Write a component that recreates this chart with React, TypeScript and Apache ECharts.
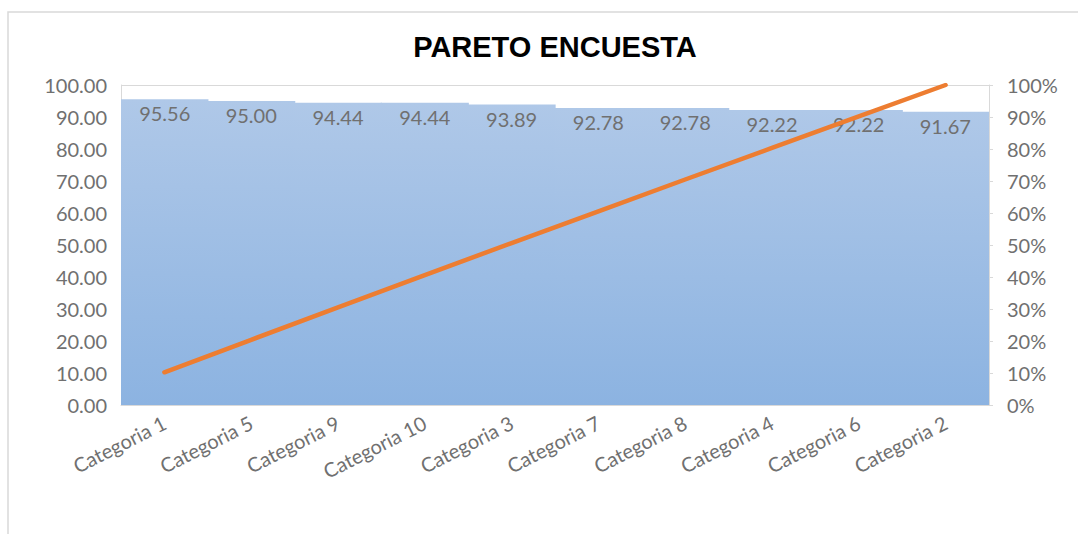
import React, { useEffect, useRef } from "react";
import * as echarts from "echarts";

const categories = [
  "Categoria 1", "Categoria 5", "Categoria 9", "Categoria 10", "Categoria 3",
  "Categoria 7", "Categoria 8", "Categoria 4", "Categoria 6", "Categoria 2",
];
const scores = [95.56, 95.0, 94.44, 94.44, 93.89, 92.78, 92.78, 92.22, 92.22, 91.67];
const cumulativePct = [10.22, 20.38, 30.48, 40.58, 50.62, 60.54, 70.47, 80.33, 90.2, 100];

const labelFont = "Lato, 'Noto Sans', sans-serif";
const grey = "#707070";

export default function App() {
  const ref = useRef<HTMLDivElement>(null);

  useEffect(() => {
    if (!ref.current) return;
    const chart = echarts.init(ref.current, undefined, { renderer: "svg" });
    chart.setOption({
      animation: false,
      backgroundColor: "#ffffff",
      title: {
        text: "PARETO ENCUESTA",
        left: 550,
        top: 27,
        textAlign: "center",
        textStyle: {
          fontFamily: "'Liberation Sans', Arial, sans-serif",
          fontWeight: "bold",
          fontSize: 29,
          color: "#000000",
        },
      },
      graphic: [
        {
          type: "rect",
          shape: { x: 8, y: 12, width: 1200, height: 700 },
          style: { fill: "none", stroke: "#d9d9d9", lineWidth: 1.5 },
          silent: true,
        },
      ],
      grid: { left: 121, right: 89, top: 85, bottom: 129 },
      xAxis: {
        type: "category",
        data: categories,
        boundaryGap: true,
        axisLine: { show: true, lineStyle: { color: "#d9d9d9" } },
        axisTick: { show: false },
        axisLabel: {
          rotate: 27,
          interval: 0,
          color: grey,
          fontFamily: labelFont,
          fontSize: 20,
          margin: 16,
        },
      },
      yAxis: [
        {
          type: "value",
          min: 0,
          max: 100,
          interval: 10,
          axisLine: { show: true, lineStyle: { color: "#d9d9d9" } },
          axisTick: { show: false },
          splitLine: { show: true, lineStyle: { color: "#d9d9d9" } },
          axisLabel: {
            color: grey,
            fontFamily: labelFont,
            fontSize: 20,
            margin: 14,
            formatter: (v: number) => v.toFixed(2),
          },
        },
        {
          type: "value",
          min: 0,
          max: 100,
          interval: 10,
          axisLine: { show: true, lineStyle: { color: "#d9d9d9" } },
          axisTick: { show: true, length: 4, lineStyle: { color: "#d9d9d9" } },
          splitLine: { show: false },
          axisLabel: {
            color: grey,
            fontFamily: labelFont,
            fontSize: 20,
            margin: 18,
            formatter: "{value}%",
          },
        },
      ],
      series: [
        {
          type: "bar",
          data: scores,
          barWidth: "101.5%",
          itemStyle: {
            color: new echarts.graphic.LinearGradient(0, 0, 0, 1, [
              { offset: 0, color: "#afc8e8" },
              { offset: 1, color: "#8cb3e1" },
            ]),
          },
          label: {
            show: true,
            position: "insideTop",
            distance: 4,
            color: grey,
            fontFamily: labelFont,
            fontSize: 20,
            formatter: (p: any) => Number(p.value).toFixed(2),
          },
        },
        {
          type: "line",
          yAxisIndex: 1,
          data: cumulativePct,
          showSymbol: false,
          symbol: "none",
          lineStyle: { color: "#ed7d31", width: 4.5, cap: "round" },
          z: 5,
        },
      ],
    });
    return () => chart.dispose();
  }, []);

  return (
    <div
      ref={ref}
      style={{ position: "fixed", left: 0, top: 0, width: 1078, height: 534 }}
    />
  );
}
